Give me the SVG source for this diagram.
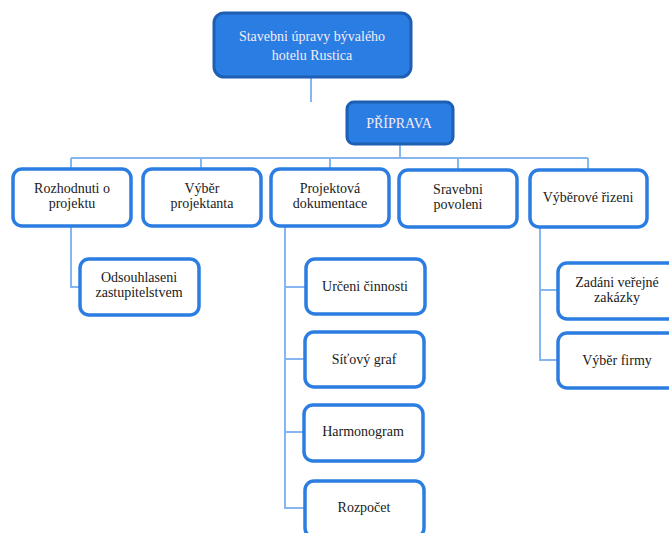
<svg xmlns="http://www.w3.org/2000/svg" width="669" height="533" viewBox="0 0 669 533" font-family="'Liberation Serif', 'Times New Roman', serif">
  <style>
    .conn { fill: none; stroke: #86b6ef; stroke-width: 2; }
    .box { fill: #ffffff; stroke: #2b7de1; stroke-width: 3.5; }
    .head { fill: #2a7de3; stroke: #1e5fb4; stroke-width: 3; }
    text.caption { font-family: 'Liberation Serif', 'Times New Roman', serif !important; font-size: 14px; fill: #1a1a1a; text-anchor: middle; }
    text.title { font-family: 'Liberation Serif', 'Times New Roman', serif; font-size: 14px; fill: #f6ecf4; text-anchor: middle; }
  </style>
  <rect width="669" height="533" fill="#ffffff"/>

  <g id="connectors">
    <path class="conn" d="M311 77 V102"/>
    <path class="conn" d="M400 144 V158"/>
    <path class="conn" d="M71 158 H588"/>
    <path class="conn" d="M71 158 V169 M201 158 V169 M330 158 V169 M458 158 V169 M588 158 V169"/>
    <path class="conn" d="M71 226 V287 H80"/>
    <path class="conn" d="M285 226 V508 H304 M285 287 H305 M285 359 H304 M285 432 H303"/>
    <path class="conn" d="M540 227 V360 H557 M540 290 H557"/>
  </g>

  <g id="root">
    <rect class="head" x="214" y="13" width="197" height="64" rx="10"/>
    <text class="title" x="312" y="41">Stavebni úpravy bývalého</text>
    <text class="title" x="312" y="60">hotelu Rustica</text>
  </g>

  <g id="priprava">
    <rect class="head" x="347" y="102" width="106" height="42" rx="7"/>
    <text class="title" x="399" y="128">PŘÍPRAVA</text>
  </g>

  <g id="rozhodnuti">
    <rect class="box" x="13" y="169" width="118" height="57" rx="9"/>
    <text class="caption" style="font-family:'Liberation Serif',serif" x="72" y="193">Rozhodnuti o</text>
    <text class="caption" style="font-family:'Liberation Serif',serif" x="72" y="208">projektu</text>
  </g>

  <g id="vyber-projektanta">
    <rect class="box" x="143" y="169" width="118" height="57" rx="9"/>
    <text class="caption" style="font-family:'Liberation Serif',serif" x="202" y="193">Výběr</text>
    <text class="caption" style="font-family:'Liberation Serif',serif" x="202" y="208">projektanta</text>
  </g>

  <g id="projektova-dokumentace">
    <rect class="box" x="271" y="169" width="118" height="57" rx="9"/>
    <text class="caption" style="font-family:'Liberation Serif',serif" x="330" y="193">Projektová</text>
    <text class="caption" style="font-family:'Liberation Serif',serif" x="330" y="208">dokumentace</text>
  </g>

  <g id="stavebni-povoleni">
    <rect class="box" x="399" y="170" width="118" height="57" rx="9"/>
    <text class="caption" style="font-family:'Liberation Serif',serif" x="458" y="194">Sravebni</text>
    <text class="caption" style="font-family:'Liberation Serif',serif" x="458" y="209">povoleni</text>
  </g>

  <g id="vyberove-rizeni">
    <rect class="box" x="530" y="170" width="117" height="57" rx="9"/>
    <text class="caption" style="font-family:'Liberation Serif',serif" x="588" y="202">Výběrové řizeni</text>
  </g>

  <g id="odsouhlaseni">
    <rect class="box" x="80" y="259" width="119" height="56" rx="9"/>
    <text class="caption" style="font-family:'Liberation Serif',serif" x="139" y="282">Odsouhlaseni</text>
    <text class="caption" style="font-family:'Liberation Serif',serif" x="139" y="297">zastupitelstvem</text>
  </g>

  <g id="urceni-cinnosti">
    <rect class="box" x="306" y="259" width="119" height="55" rx="9"/>
    <text class="caption" style="font-family:'Liberation Serif',serif" x="365" y="291">Určeni činnosti</text>
  </g>

  <g id="sitovy-graf">
    <rect class="box" x="305" y="332" width="119" height="55" rx="9"/>
    <text class="caption" style="font-family:'Liberation Serif',serif" x="364" y="364">Síťový graf</text>
  </g>

  <g id="harmonogram">
    <rect class="box" x="304" y="405" width="119" height="56" rx="9"/>
    <text class="caption" style="font-family:'Liberation Serif',serif" x="363" y="436">Harmonogram</text>
  </g>

  <g id="rozpocet">
    <rect class="box" x="305" y="481" width="119" height="56" rx="9"/>
    <text class="caption" style="font-family:'Liberation Serif',serif" x="364" y="512">Rozpočet</text>
  </g>

  <g id="zadani-zakazky">
    <rect class="box" x="558" y="263" width="120" height="56" rx="9"/>
    <text class="caption" style="font-family:'Liberation Serif',serif" x="617" y="287">Zadáni veřejné</text>
    <text class="caption" style="font-family:'Liberation Serif',serif" x="617" y="302">zakázky</text>
  </g>

  <g id="vyber-firmy">
    <rect class="box" x="558" y="333" width="120" height="55" rx="9"/>
    <text class="caption" style="font-family:'Liberation Serif',serif" x="617" y="365">Výběr firmy</text>
  </g>
</svg>
